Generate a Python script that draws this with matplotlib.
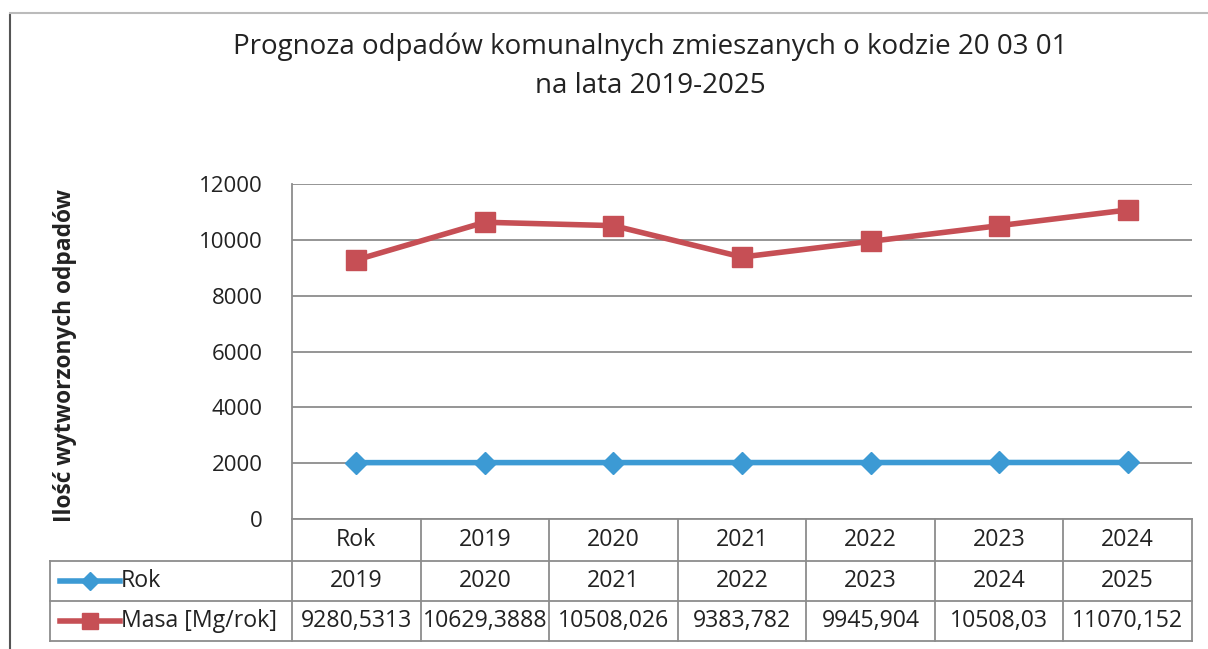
import matplotlib
matplotlib.use("Agg")
from matplotlib import pyplot as plt
from matplotlib import transforms
from matplotlib.lines import Line2D

plt.rcParams['font.family'] = ['Open Sans', 'DejaVu Sans']

# dane z wykresu
categories = ["Rok", "2019", "2020", "2021", "2022", "2023", "2024"]
rok = [2019, 2020, 2021, 2022, 2023, 2024, 2025]
masa = [9280.5313, 10629.3888, 10508.026, 9383.782, 9945.904, 10508.03, 11070.152]
yticks = [0, 2000, 4000, 6000, 8000, 10000, 12000]

blue = "#3C9AD4"
red = "#C64F55"
grid_c = "#8C8C8C"
txt_c = "#222222"
W, H = 1208, 649
fs_tab = 16.7


def fx(px):
    return px / W


def fy(py):
    return 1 - py / H


fig = plt.figure(figsize=(12.08, 6.49), dpi=100)
ax = fig.add_axes([fx(292), fy(519), fx(1192) - fx(292), fy(184) - fy(519)])

x = list(range(len(categories)))
ax.plot(x, rok, color=blue, lw=4, marker="D", ms=11, mfc=blue, mec=blue, zorder=3)
ax.plot(x, masa, color=red, lw=4, marker="s", ms=15, mfc=red, mec=red, zorder=3)

ax.set_xlim(-0.5, len(categories) - 0.5)
ax.set_ylim(0, 12000)
ax.set_yticks(yticks)
ax.set_yticklabels([str(t) for t in yticks], fontsize=16, color=txt_c)
ax.tick_params(axis="y", length=0, pad=21)
ax.set_xticks([])
ax.grid(axis="y", color=grid_c, lw=1.3)
ax.set_axisbelow(True)
for s in ["top", "right"]:
    ax.spines[s].set_visible(False)
for s in ["left", "bottom"]:
    ax.spines[s].set_color(grid_c)
    ax.spines[s].set_linewidth(1.3)

fig.text(fx(65), fy(355), "Ilość wytworzonych odpadów", rotation=90, ha="center", va="center",
         fontsize=16.4, fontweight="bold", color=txt_c)

fig.text(fx(650), fy(47), "Prognoza odpadów komunalnych zmieszanych o kodzie 20 03 01",
         ha="center", va="center", fontsize=20, color=txt_c)
fig.text(fx(650), fy(86), "na lata 2019-2025", ha="center", va="center", fontsize=20, color=txt_c)

# tabela danych pod wykresem
tr = transforms.blended_transform_factory(ax.transData, fig.transFigure)
row_y = [519, 561, 601, 641]
x_left = -0.5
x_right = len(categories) - 0.5
legend_left = x_left - (292 - 50) / (900 / len(categories))
for py in row_y[1:]:
    fig.add_artist(Line2D([legend_left, x_right], [fy(py), fy(py)], transform=tr, color=grid_c, lw=1.3))
for i in range(len(categories) + 1):
    xe = x_left + i
    fig.add_artist(Line2D([xe, xe], [fy(519), fy(641)], transform=tr, color=grid_c, lw=1.3))
fig.add_artist(Line2D([legend_left, legend_left], [fy(561), fy(641)], transform=tr, color=grid_c, lw=1.3))

row_mid = [(row_y[k] + row_y[k + 1]) / 2 for k in range(3)]
for i, c in enumerate(categories):
    fig.text(i, fy(row_mid[0]), c, transform=tr, ha="center", va="center", fontsize=fs_tab, color=txt_c)
    fig.text(i, fy(row_mid[1]), str(rok[i]), transform=tr, ha="center", va="center", fontsize=fs_tab, color=txt_c)
    fig.text(i, fy(row_mid[2]), str(masa[i]).replace(".", ","), transform=tr, ha="center", va="center",
             fontsize=fs_tab, color=txt_c)

# legenda w tabeli
for k, (name, col, mk, ms) in enumerate([("Rok", blue, "D", 9), ("Masa [Mg/rok]", red, "s", 12)]):
    yy = fy(row_mid[k + 1])
    fig.add_artist(Line2D([fx(60), fx(120)], [yy, yy], color=col, lw=4))
    fig.add_artist(Line2D([fx(90)], [yy], color=col, marker=mk, ms=ms, mfc=col, mec=col))
    fig.text(fx(121), yy, name, ha="left", va="center", fontsize=fs_tab, color=txt_c)

# ramka
fig.add_artist(Line2D([fx(10), fx(10)], [fy(15), fy(649)], color="#555555", lw=1.5))
fig.add_artist(Line2D([fx(10), fx(1208)], [fy(13), fy(13)], color="#BBBBBB", lw=1.5))

fig.savefig("out.png", dpi=100)
